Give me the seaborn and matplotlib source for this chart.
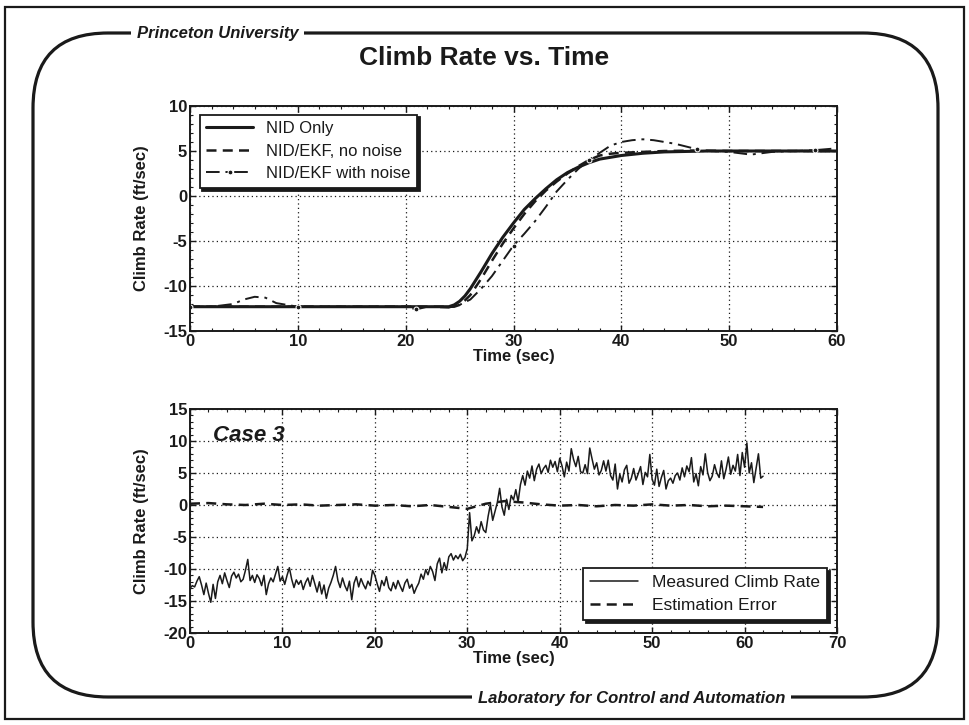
import numpy as np
import matplotlib
matplotlib.use("Agg")
import matplotlib.pyplot as plt
import seaborn as sns
from matplotlib.patches import Rectangle, FancyBboxPatch
from matplotlib.ticker import MultipleLocator

sns.set_theme(style="ticks")
plt.rcParams["font.family"] = ["Liberation Sans", "DejaVu Sans"]
plt.rcParams["axes.unicode_minus"] = False
plt.rcParams["text.color"] = "k"
plt.rcParams["axes.labelcolor"] = "k"

# top panel: three model responses
t_nid = [0, 24, 24.5, 25, 25.5, 26, 27, 28, 29, 30, 31, 32, 33, 34, 35, 36, 37, 38,
         39, 40, 42, 44, 46, 48, 50, 55, 60]
v_nid = [-12.3, -12.3, -12.1, -11.7, -11.1, -10.3, -8.4, -6.4, -4.6, -3.0, -1.5, -0.3,
         0.8, 1.8, 2.6, 3.2, 3.7, 4.1, 4.3, 4.5, 4.75, 4.9, 4.95, 5.0, 5.0, 5.0, 5.0]

t_ekf = [0, 24.5, 25, 25.5, 26, 27, 28, 29, 30, 31, 32, 33, 34, 35, 36, 37, 38, 39,
         40, 42, 44, 47, 50, 55, 60]
v_ekf = [-12.3, -12.3, -12.1, -11.6, -11.0, -9.2, -7.2, -5.3, -3.6, -2.0, -0.6, 0.6,
         1.6, 2.5, 3.3, 4.0, 4.5, 4.7, 4.8, 4.9, 5.0, 5.05, 5.0, 5.0, 5.0]

t_noise = [0, 2, 4, 5, 6, 7, 8, 10, 15, 20, 21, 22, 24, 25, 26, 27, 28, 29, 30, 31,
           32, 33, 34, 35, 36, 37, 38, 39, 40, 41, 42, 43, 44, 45, 46, 47, 48, 50,
           52, 54, 56, 58, 60]
v_noise = [-12.3, -12.3, -12.0, -11.5, -11.2, -11.3, -11.9, -12.3, -12.3, -12.3, -12.6,
           -12.3, -12.4, -12.1, -11.5, -10.3, -8.9, -7.2, -5.5, -4.2, -2.8, -1.2, 0.5,
           1.8, 3.0, 4.0, 4.8, 5.6, 6.0, 6.2, 6.3, 6.2, 6.0, 5.8, 5.5, 5.2, 5.0, 4.9,
           4.6, 4.9, 5.0, 5.1, 5.3]

# bottom panel: measured climb rate, 0.25 s samples from 0 to 62 s
measured = [
    -13.0, -12.6, -12.8, -11.9, -11.2, -12.5, -14.0, -12.2, -13.8, -15.2,
    -12.4, -14.6, -12.0, -11.0, -12.3, -10.6, -11.8, -12.9, -11.1, -10.5,
    -11.4, -10.8, -12.0, -11.6, -10.2, -8.5, -11.8, -11.0, -12.1, -10.9,
    -11.5, -12.6, -11.0, -14.0, -12.3, -11.4, -12.0, -10.8, -9.6, -11.9,
    -11.2, -12.4, -11.0, -9.8, -11.6, -12.9, -11.7, -12.4, -11.8, -13.2,
    -12.1, -11.4, -12.7, -11.0, -12.3, -13.6, -12.0, -13.9, -12.5, -14.6,
    -13.0, -12.1, -11.0, -9.6, -11.8, -12.9, -11.4, -12.6, -13.4, -11.9,
    -14.8, -12.2, -11.2, -12.8, -11.5, -12.4, -13.1, -11.9, -12.6, -10.2,
    -11.0, -12.3, -13.5, -11.8, -12.6, -11.2, -12.9, -13.4, -12.1, -13.1,
    -11.8, -12.7, -13.5, -12.2, -11.6, -13.0, -12.4, -13.8, -12.9, -12.2,
    -10.8, -11.6, -10.1, -10.9, -9.6, -10.4, -11.8, -9.2, -8.3, -10.6,
    -9.0, -10.2, -8.1, -7.6, -8.6, -7.9, -8.4, -7.7, -8.7, -8.2,
    -6.8, -1.2, -5.6, -4.8, -3.4, -4.4, -2.6, -3.9, -4.3, -1.8,
    0.1, -2.4, -1.0, 0.4, 2.6, -0.3, -1.6, 0.9, -0.7, 1.5,
    0.8, 2.4, 0.5, 3.2, 4.6, 3.1, 5.3, 4.2, 6.1, 3.8,
    5.6, 6.4, 4.9, 5.7, 6.2, 5.1, 7.0, 5.9, 6.8, 5.2,
    7.3, 6.1, 4.4, 6.7, 5.3, 8.8, 7.1, 6.0, 7.6, 5.2,
    5.0, 6.3, 4.9, 8.9, 7.2, 5.6, 6.6, 4.7, 5.4, 6.9,
    5.3, 7.0, 4.6, 3.9, 6.4, 2.5, 4.8, 3.6, 5.5, 6.2,
    3.4, 4.2, 5.7, 3.9, 4.9, 6.0, 3.2, 5.1, 4.4, 7.9,
    4.0, 3.1, 5.6, 2.9, 4.3, 5.4, 2.5, 3.8, 4.2, 3.4,
    4.6, 5.0, 3.9, 5.8, 4.4, 6.1, 5.2, 7.4, 3.6, 4.9,
    3.0, 6.0, 4.7, 8.0, 5.1, 3.8, 4.5, 6.3, 5.0, 4.3,
    6.9, 4.1, 5.6, 7.5, 4.8, 6.2, 5.3, 7.9, 4.6, 8.2,
    5.9, 9.7, 5.0, 6.6, 3.5, 5.8, 8.0, 4.2, 4.5,
]
t_meas = np.linspace(0, 62, len(measured))

t_err = list(range(0, 63, 2))
v_err = [0.2, 0.3, 0.1, 0.0, 0.2, 0.0, 0.1, -0.1, 0.0, 0.1, -0.1, 0.0, -0.2, 0.0, -0.3,
         -0.6, 0.2, 0.6, 0.4, 0.1, -0.1, 0.0, -0.2, 0.0, -0.1, 0.1, -0.1, 0.0, -0.2,
         -0.1, -0.2, -0.3]

W, H = 969, 725
fig = plt.figure(figsize=(W / 100, H / 100), dpi=100)
fig.patch.set_facecolor("white")

# background frame, drawn in pixel units
bg = fig.add_axes([0, 0, 1, 1], zorder=-10)
bg.set_xlim(0, W)
bg.set_ylim(H, 0)
bg.axis("off")
bg.add_patch(Rectangle((5, 7), 959, 712, fill=False, ec="k", lw=1.6))
bg.add_patch(FancyBboxPatch((33, 33), 905, 664, boxstyle="round,pad=0,rounding_size=75",
                            fill=False, ec="k", lw=2.3))
box = dict(fc="white", ec="none", pad=4)
bg.text(137, 33, "Princeton University", ha="left", va="center", fontsize=12,
        style="italic", weight="bold", bbox=box)
bg.text(478, 698, "Laboratory for Control and Automation", ha="left", va="center",
        fontsize=12, style="italic", weight="bold", bbox=box)
bg.text(484, 58, "Climb Rate vs. Time", ha="center", va="center", fontsize=19,
        weight="bold")


def style_axes(ax, xmax, ymin, ymax):
    ax.set_facecolor("white")
    ax.set_xlim(0, xmax)
    ax.set_ylim(ymin, ymax)
    ax.xaxis.set_major_locator(MultipleLocator(10))
    ax.xaxis.set_minor_locator(MultipleLocator(2))
    ax.yaxis.set_major_locator(MultipleLocator(5))
    ax.yaxis.set_minor_locator(MultipleLocator(1))
    ax.grid(True, which="major", color="k", linestyle=(0, (1, 2.5)), lw=0.9)
    ax.tick_params(which="both", direction="in", top=True, right=True, colors="k",
                   labelsize=12, pad=2)
    ax.tick_params(which="major", length=4, width=1)
    ax.tick_params(which="minor", length=2.5, width=0.8)
    for lab in ax.get_xticklabels() + ax.get_yticklabels():
        lab.set_fontweight("bold")
    for s in ax.spines.values():
        s.set_color("k")
        s.set_linewidth(1.4)
    ax.set_xlabel("Time (sec)", fontsize=12, weight="bold", labelpad=0)
    ax.set_ylabel("Climb Rate (ft/sec)", fontsize=12, weight="bold", labelpad=10)


# top panel
ax1 = fig.add_axes([190 / W, 1 - 331 / H, 647 / W, 225 / H])
sns.lineplot(x=t_nid, y=v_nid, ax=ax1, color="k", lw=2.2, label="NID Only",
             estimator=None, sort=False)
sns.lineplot(x=t_ekf, y=v_ekf, ax=ax1, color="k", lw=1.8, linestyle=(0, (4, 2.5)),
             label="NID/EKF, no noise", estimator=None, sort=False)
sns.lineplot(x=t_noise, y=v_noise, ax=ax1, color="k", lw=1.4,
             linestyle=(0, (7, 3, 1.5, 3)), marker="o", markersize=3.5,
             markevery=0.17, label="NID/EKF with noise", estimator=None, sort=False)
style_axes(ax1, 60, -15, 10)
leg1 = ax1.legend(loc="upper left", bbox_to_anchor=(0.015, 0.962), borderaxespad=0,
                  fancybox=False, edgecolor="k", framealpha=1, fontsize=12,
                  handlelength=2.8, labelspacing=0.45, borderpad=0.4,
                  shadow={"color": "k", "alpha": 1})
leg1.get_frame().set_linewidth(1.3)

# bottom panel
ax2 = fig.add_axes([190 / W, 1 - 633 / H, 647 / W, 224 / H])
sns.lineplot(x=t_meas, y=measured, ax=ax2, color="k", lw=1.1,
             label="Measured Climb Rate", estimator=None, sort=False)
sns.lineplot(x=t_err, y=v_err, ax=ax2, color="k", lw=1.8, linestyle=(0, (4, 2.5)),
             label="Estimation Error", estimator=None, sort=False)
style_axes(ax2, 70, -20, 15)
ax2.text(2.5, 10.8, "Case 3", fontsize=16, style="italic", weight="bold",
         ha="left", va="center")
leg2 = ax2.legend(loc="lower right", bbox_to_anchor=(0.985, 0.058), borderaxespad=0,
                  fancybox=False, edgecolor="k", framealpha=1, fontsize=12.5,
                  handlelength=2.8, labelspacing=0.45, borderpad=0.4,
                  shadow={"color": "k", "alpha": 1})
leg2.get_frame().set_linewidth(1.3)

fig.savefig("out.png", dpi=100)
